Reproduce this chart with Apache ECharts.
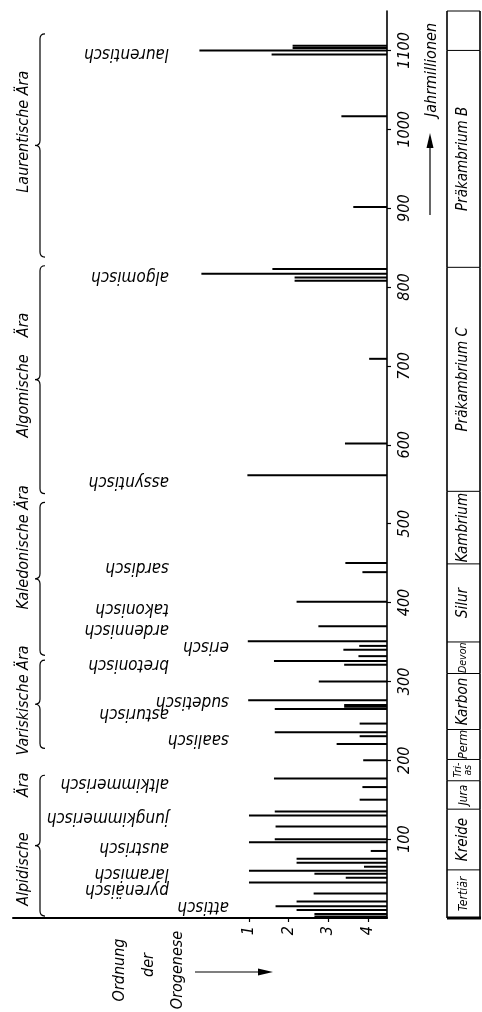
<!DOCTYPE html>
<html>
<head>
<meta charset="utf-8">
<script src="https://cdn.jsdelivr.net/npm/echarts@6/dist/echarts.min.js"></script>
<style>
  html, body { margin: 0; padding: 0; background: #fff; }
  #chart { width: 482px; height: 1012px; }
</style>
</head>
<body>
<div id="chart"></div>
<script>
// orogenic phases: age (Jahrmillionen) and order of the orogeny
const barAges = [2, 5, 10, 15, 21, 31, 45, 51, 56, 60, 65, 70, 75, 85, 96, 100, 116, 130, 135,
  150, 166, 177, 200, 220.5, 230.5, 235.5, 246.5, 265, 268, 270, 276, 300, 321, 326, 332, 340,
  345, 351, 370, 401, 438.5, 450, 561.5, 601.5, 709, 808, 812, 817, 823, 901.5, 1016.5,
  1095, 1100, 1103, 1106];
const barOrders = [2.65, 2.65, 2.2, 1.67, 2.2, 2.63, 1.0, 3.44, 2.65, 1.0, 3.9, 2.2, 2.2, 4.07, 1.0, 1.65, 1.67, 1.0, 1.65,
  3.79, 3.86, 1.63, 3.88, 3.21, 3.79, 1.65, 3.79, 1.65, 3.4, 3.4, 0.98, 2.76, 3.4, 1.63, 3.76, 3.38,
  3.78, 0.97, 2.75, 2.2, 3.86, 3.43, 0.96, 3.42, 4.03, 2.15, 2.15, -0.2, 1.59, 3.63, 3.33,
  1.57, -0.25, 2.1, 2.1];

const phaseNames = ['attisch', 'pyrenäisch', 'laramisch', 'austrisch', 'jungkimmerisch', 'altkimmerisch',
  'saalisch', 'asturisch', 'sudetisch', 'bretonisch', 'erisch', 'ardennisch', 'takonisch', 'sardisch',
  'assyntisch', 'algomisch', 'laurentisch'];
const phaseAges = [15, 36, 57, 90, 128, 170, 227, 259, 274, 321, 344, 366, 392, 445, 553, 813, 1096];
const innerPhases = ['attisch', 'saalisch', 'sudetisch', 'erisch'];

const eraStart = [2.5, 215, 333, 538, 838];
const eraEnd = [181, 327, 527, 827, 1121];
const eraTexts = ['Alpidische', 'Ära', 'Variskische Ära', 'Kaledonische Ära', 'Algomische', 'Ära', 'Laurentische Ära'];
const eraTextAges = [62, 169, 276, 470, 662, 752, 997];

const periodNames = ['Tertiär', 'Kreide', 'Jura', 'Tri-\nas', 'Perm', 'Karbon', 'Devon', 'Silur',
  'Kambrium', 'Präkambrium C', 'Präkambrium B', ''];
const periodBounds = [0, 61, 138, 174, 201, 239, 310, 350, 449, 541, 825, 1100, 1150];

const timeTicks = [100, 200, 300, 400, 500, 600, 700, 800, 900, 1000, 1100];
const orderTicks = [1, 2, 3, 4];

const FONT = "'DejaVu Sans Condensed', 'Liberation Sans Narrow', 'DejaVu Sans', sans-serif";
const BASE = 4.48;      // order value where the time axis stands
const TABLE_L = 447, TABLE_R = 480;

function txt(text, x, y, rot, size, align) {
  return {
    type: 'text', x: x, y: y, rotation: rot,
    style: {
      text: text, fontSize: size, fontFamily: FONT, fontStyle: 'italic', fill: '#000',
      align: align || 'center', textAlign: align || 'center',
      verticalAlign: 'middle', textVerticalAlign: 'middle'
    }
  };
}

const chart = echarts.init(document.getElementById('chart'));

const option = {
  animation: false,
  grid: { left: 13, right: 95, top: 11, bottom: 94 },
  xAxis: {
    type: 'value', min: -4.95, max: BASE,
    splitLine: { show: false },
    axisLine: { show: true, onZero: false, lineStyle: { color: '#000', width: 2 } },
    axisTick: { show: true, length: 4, customValues: orderTicks, lineStyle: { color: '#000', width: 1.2 } },
    axisLabel: {
      customValues: orderTicks, rotate: 90, margin: 8, color: '#000',
      fontSize: 16, fontFamily: FONT, fontStyle: 'italic'
    }
  },
  yAxis: {
    type: 'value', position: 'right', min: 0, max: 1150,
    splitLine: { show: false },
    axisLine: { show: true, onZero: false, lineStyle: { color: '#000', width: 1.6 } },
    axisTick: { show: true, length: 4, customValues: timeTicks, lineStyle: { color: '#000', width: 1.2 } },
    axisLabel: {
      customValues: timeTicks, rotate: 90, margin: 10, color: '#000',
      fontSize: 16, fontFamily: FONT, fontStyle: 'italic',
      formatter: v => String(v)
    }
  },
  series: [
    {
      type: 'custom', name: 'bars',
      data: barAges.map((a, i) => [barOrders[i], a]),
      encode: { x: 0, y: 1 },
      renderItem: (params, api) => {
        const p0 = api.coord([BASE, api.value(1)]);
        const p1 = api.coord([api.value(0), api.value(1)]);
        return {
          type: 'line',
          shape: { x1: p0[0], y1: p0[1], x2: p1[0], y2: p1[1] },
          style: { stroke: '#000', lineWidth: 2 }
        };
      }
    },
    {
      type: 'custom', name: 'phases',
      data: phaseAges.map(a => [0, a]),
      encode: { x: 0, y: 1 },
      renderItem: (params, api) => {
        const name = phaseNames[params.dataIndex];
        const y = api.coord([0, api.value(1)])[1];
        const x = innerPhases.includes(name) ? 229 : 169;
        return txt(name, x, y, Math.PI, 17, 'left');
      }
    },
    {
      type: 'custom', name: 'eras',
      data: eraStart.map((s, i) => [0, s, eraEnd[i]]),
      encode: { x: 0, y: 1 },
      renderItem: (params, api) => {
        const bot = api.coord([0, api.value(1)])[1];
        const top = api.coord([0, api.value(2)])[1];
        const mid = (top + bot) / 2;
        const xb = 40, xr = 45, xl = 35, r = 5;
        const d = `M${xr} ${top} Q${xb} ${top} ${xb} ${top + r} L${xb} ${mid - r} Q${xb} ${mid} ${xl} ${mid}` +
          ` Q${xb} ${mid} ${xb} ${mid + r} L${xb} ${bot - r} Q${xb} ${bot} ${xr} ${bot}`;
        return { type: 'path', shape: { pathData: d }, style: { fill: 'none', stroke: '#000', lineWidth: 1.2 } };
      }
    },
    {
      type: 'custom', name: 'eraTexts',
      data: eraTextAges.map(a => [0, a]),
      encode: { x: 0, y: 1 },
      renderItem: (params, api) => {
        const y = api.coord([0, api.value(1)])[1];
        return txt(eraTexts[params.dataIndex], 24, y, Math.PI / 2, 16);
      }
    },
    {
      type: 'custom', name: 'periods',
      data: periodNames.map((n, i) => [0, periodBounds[i], periodBounds[i + 1]]),
      encode: { x: 0, y: 1 },
      renderItem: (params, api) => {
        const name = periodNames[params.dataIndex];
        const bot = api.coord([0, api.value(1)])[1];
        const top = api.coord([0, api.value(2)])[1];
        const h = bot - top;
        const lines = name.split('\n');
        const longest = Math.max(...lines.map(l => l.length));
        let size = Math.min(15, (h - 4) / (Math.max(longest, 1) * 0.52));
        if (lines.length > 1) size = 10.5;
        const children = [
          { type: 'line', shape: { x1: TABLE_L, y1: top, x2: TABLE_R, y2: top }, style: { stroke: '#000', lineWidth: 1 } },
          { type: 'line', shape: { x1: TABLE_L, y1: top, x2: TABLE_L, y2: bot }, style: { stroke: '#000', lineWidth: 1.6 } },
          { type: 'line', shape: { x1: TABLE_R, y1: top, x2: TABLE_R, y2: bot }, style: { stroke: '#000', lineWidth: 1.6 } }
        ];
        if (name) {
          const t = txt(name, (TABLE_L + TABLE_R) / 2, (top + bot) / 2, Math.PI / 2, size);
          if (lines.length > 1) t.style.lineHeight = 10;
          children.push(t);
        }
        return { type: 'group', children: children };
      }
    }
  ],
  graphic: [
    { type: 'line', shape: { x1: TABLE_L, y1: 918, x2: TABLE_R + 1, y2: 918 }, style: { stroke: '#000', lineWidth: 3 } },
    txt('Jahrmillionen', 432, 70, Math.PI / 2, 16),
    { type: 'line', shape: { x1: 430, y1: 215, x2: 430, y2: 145 }, style: { stroke: '#000', lineWidth: 1.2 } },
    { type: 'polygon', shape: { points: [[430, 133], [426.5, 148], [433.5, 148]] }, style: { fill: '#000' } },
    txt('Ordnung', 120, 970, Math.PI / 2, 16),
    txt('der', 149, 965, Math.PI / 2, 16),
    txt('Orogenese', 178, 970, Math.PI / 2, 16),
    { type: 'line', shape: { x1: 195, y1: 972, x2: 262, y2: 972 }, style: { stroke: '#000', lineWidth: 1.2 } },
    { type: 'polygon', shape: { points: [[273, 972], [258, 968.5], [258, 975.5]] }, style: { fill: '#000' } }
  ]
};

chart.setOption(option);
window.addEventListener('resize', () => chart.resize());
</script>
</body>
</html>
